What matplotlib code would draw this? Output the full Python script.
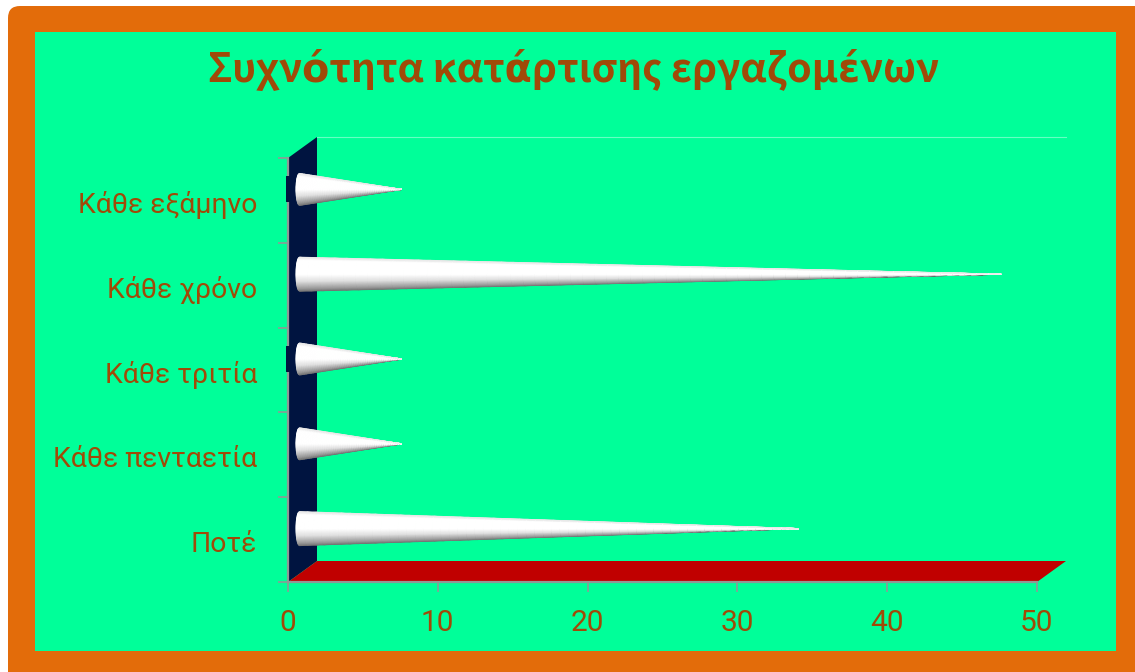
import numpy as np
import matplotlib
matplotlib.use("Agg")
import matplotlib.pyplot as plt
from matplotlib.patches import FancyBboxPatch, Polygon, Rectangle

# Survey results, bottom row first
categories = ["Ποτέ", "Κάθε πενταετία", "Κάθε τριτία", "Κάθε χρόνο", "Κάθε εξάμηνο"]
values = [33.5, 7.0, 7.0, 47.0, 7.0]
x_ticks = [0, 10, 20, 30, 40, 50]
title = "Συχνότητα κατάρτισης εργαζομένων"

W, H = 1135, 672
ORANGE = "#e36c0a"
GREEN = "#00ff99"
TEXT = "#a04a08"
NAVY = "#001440"
RED = "#c00000"
GREY = "#8f9a96"

fig = plt.figure(figsize=(W / 100, H / 100), dpi=100, facecolor="white")

# Full-figure layer in pixel units for the frame
bg = fig.add_axes([0, 0, 1, 1])
bg.set_xlim(0, W)
bg.set_ylim(H, 0)
bg.axis("off")
bg.add_patch(FancyBboxPatch((20, 18), W + 40, H + 40,
                            boxstyle="round,pad=12,rounding_size=12",
                            fc=ORANGE, ec="none"))
bg.add_patch(Rectangle((35, 32), 1081, 619, fc=GREEN, ec="none"))
bg.text(574, 70, title, ha="center", va="center", fontsize=28.5,
        fontweight="bold", color=TEXT, family=["Noto Sans CJK SC", "DejaVu Sans"])

# Plot area
left, right, top, bottom = 288, 1037, 158, 582
ax = fig.add_axes([left / W, 1 - bottom / H, (right - left) / W, (bottom - top) / H])
ax.patch.set_alpha(0)
ax.set_xlim(0, 50)
ax.set_ylim(-0.5, len(categories) - 0.5)
px_x = (right - left) / 50
px_y = (bottom - top) / len(categories)

# 3D box: back wall, floor and the faint top edge
dx, dy = 29 / px_x, 21 / px_y
y0, y1 = ax.get_ylim()
ax.add_patch(Polygon([(0, y0), (dx, y0 + dy), (dx, y1 + dy), (0, y1)],
                     fc=NAVY, ec="none", clip_on=False, zorder=1))
ax.add_patch(Polygon([(0, y0), (dx, y0 + dy), (50 + dx, y0 + dy), (50, y0)],
                     fc=RED, ec="none", clip_on=False, zorder=1))
ax.plot([dx, 50 + dx], [y1 + dy, y1 + dy], color="#66ffc2", lw=0.8,
        clip_on=False, zorder=1)

# Cones: a vertical grey-to-white shading, tapering towards the value
shade_u = np.linspace(0, 1, 41)
shade = np.interp(shade_u, [0, 0.08, 0.3, 0.5, 0.93, 1], [0.45, 0.6, 0.88, 1, 1, 0.9])
off_x, off_y = 9 / px_x, 11 / px_y
for pos, val in zip(range(len(categories)), values):
    half = (17 if val > 20 else 16) / px_y
    base = 8 / px_x
    tip = val + off_x
    v = np.linspace(0, 1, 60)
    U, V = np.meshgrid(shade_u, v)
    round_base = base + (3.5 / px_x) * (1 - np.sqrt(np.clip(1 - (2 * U - 1) ** 2, 0, 1)))
    X = round_base * (1 - V) + tip * V
    Y = pos + off_y + half * (2 * U - 1) * (1 - V)
    C = np.tile(shade, (len(v), 1))
    ax.pcolormesh(X, Y, C, cmap="gray", vmin=0, vmax=1, shading="gouraud",
                  clip_on=False, zorder=3)

# Dark shadow edge behind the base of the top and middle cones
for pos in (4, 2):
    ax.add_patch(Rectangle((-2 / px_x, pos - 2 / px_y), 4 / px_x, 26 / px_y,
                           fc=NAVY, ec="none", clip_on=False, zorder=2.5))

# Axes and ticks
for name in ("top", "right"):
    ax.spines[name].set_visible(False)
for name in ("left", "bottom"):
    ax.spines[name].set_color(GREY)
    ax.spines[name].set_linewidth(1.6)
    ax.spines[name].set_zorder(2)

ax.set_xticks(x_ticks)
ax.set_xticklabels([str(t) for t in x_ticks])
ax.tick_params(axis="x", length=7.5, width=1.2, color=GREY, pad=12,
               labelsize=21.5, labelcolor=TEXT)
ax.set_yticks(np.arange(-0.5, len(categories)))
ax.set_yticklabels([])
ax.tick_params(axis="y", which="major", length=7.5, width=1.2, color=GREY)
ax.set_yticks(np.arange(len(categories)) - 2 / px_y, minor=True)
ax.set_yticklabels(categories, minor=True)
ax.tick_params(axis="y", which="minor", length=0, pad=22.3,
               labelsize=20.4, labelcolor=TEXT)
for lab in ax.get_xticklabels() + ax.get_yticklabels(minor=True):
    lab.set_family(["Roboto", "DejaVu Sans"])

fig.savefig("out.png", dpi=100, facecolor="white")
